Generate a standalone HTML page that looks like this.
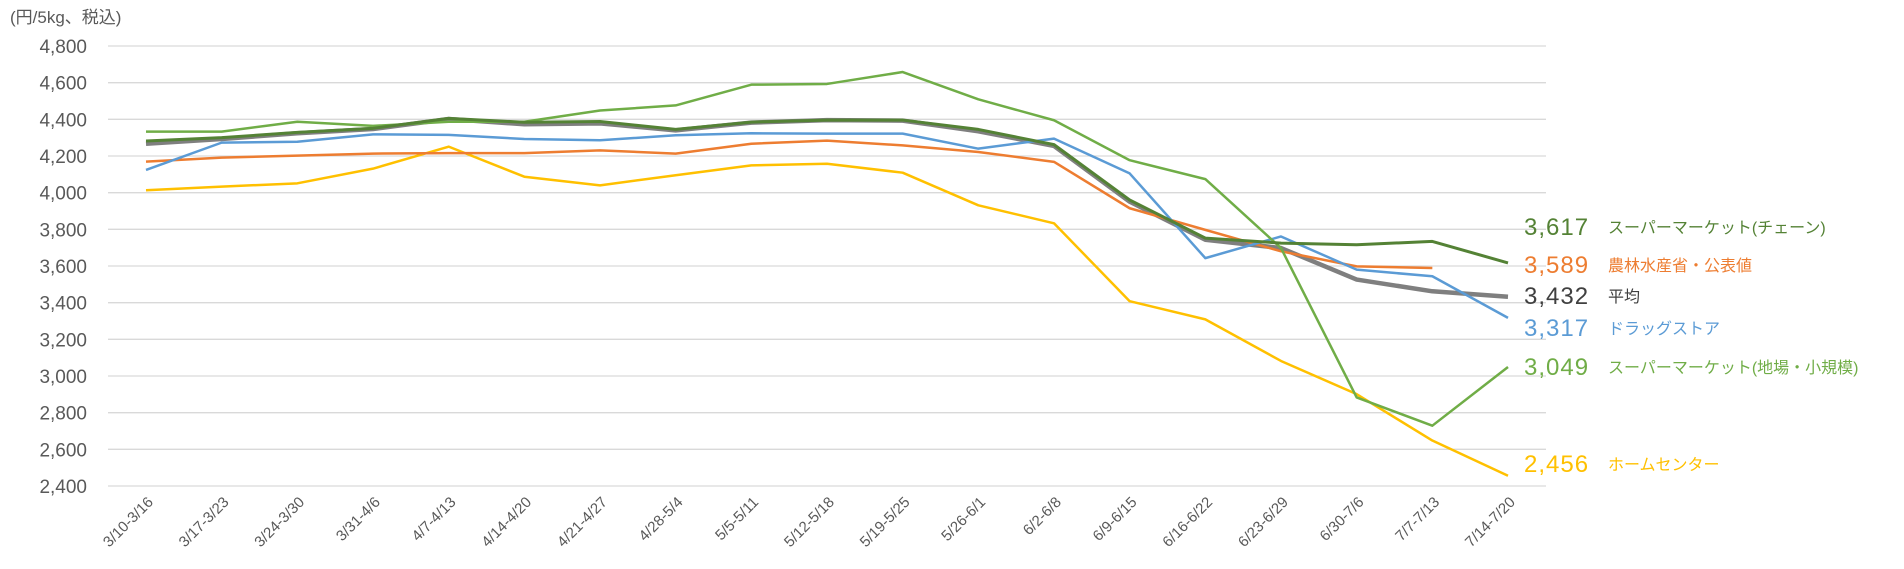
<!DOCTYPE html>
<html><head><meta charset="utf-8"><style>
body{margin:0;background:#fff;width:1904px;height:569px;overflow:hidden}
svg{display:block;font-family:"Liberation Sans","Noto Sans CJK JP",sans-serif}
</style></head><body>
<svg id="chart" width="1904" height="569" viewBox="0 0 1904 569">
<text x="10" y="23" font-size="17" fill="#595959">(円/5kg、税込)</text>
<g id="grid"></g><g id="ylabels"></g><g id="xlabels"></g><g id="lines"></g><g id="endlabels"></g>
</svg>
<script>
const categories=["3/10-3/16","3/17-3/23","3/24-3/30","3/31-4/6","4/7-4/13","4/14-4/20","4/21-4/27","4/28-5/4","5/5-5/11","5/12-5/18","5/19-5/25","5/26-6/1","6/2-6/8","6/9-6/15","6/16-6/22","6/23-6/29","6/30-7/6","7/7-7/13","7/14-7/20"];
const yTicks=[2400,2600,2800,3000,3200,3400,3600,3800,4000,4200,4400,4600,4800];
const homeCenter=[4013,4033,4051,4131,4251,4087,4040,4095,4149,4158,4109,3931,3833,3408,3309,3082,2901,2648,2456];
const maff=[4169,4191,4202,4213,4216,4216,4231,4213,4267,4284,4258,4222,4168,3915,3797,3680,3598,3589,null];
const drugstore=[4124,4273,4278,4318,4315,4293,4286,4313,4324,4322,4322,4240,4295,4105,3643,3761,3580,3544,3317];
const superLocal=[4333,4333,4387,4364,4387,4387,4448,4476,4589,4593,4658,4509,4395,4177,4074,3698,2883,2729,3049];
const superChain=[4282,4300,4329,4351,4405,4384,4388,4345,4385,4396,4396,4345,4262,3960,3752,3725,3716,3734,3617];
const average=[4267,4293,4324,4347,4402,4373,4378,4340,4382,4396,4393,4335,4255,3951,3743,3698,3526,3462,3432];
const seriesNames=["ホームセンター","農林水産省・公表値","ドラッグストア","スーパーマーケット(地場・小規模)","スーパーマーケット(チェーン)","平均"];
const endValues=["2,456","3,589","3,317","3,049","3,617","3,432"];

const NS="http://www.w3.org/2000/svg";
const x=i=>146+i*(1508-146)/(categories.length-1);
const y=v=>486-(v-2400)/(4800-2400)*440;
function mk(tag,attrs,parent){const e=document.createElementNS(NS,tag);for(const k in attrs)e.setAttribute(k,attrs[k]);parent.appendChild(e);return e;}
const G=document.getElementById('grid'),YL=document.getElementById('ylabels'),XL=document.getElementById('xlabels'),L=document.getElementById('lines'),E=document.getElementById('endlabels');
yTicks.forEach(t=>{
  const g=mk('line',{x1:108,x2:1546,y1:y(t),y2:y(t),stroke:'#d9d9d9','stroke-width':1.3},G);
  
  
  const tx=mk('text',{x:87,y:y(t)+7,'text-anchor':'end','font-size':19,fill:'#595959'},YL);
  tx.textContent=t.toLocaleString('en-US');
  
  
});
categories.forEach((c,i)=>{
  const tx=mk('text',{x:x(i)+8,y:503,'text-anchor':'end','font-size':15,fill:'#595959',transform:`rotate(-45 ${x(i)+8} 503)`},XL);
  tx.textContent=c;
  
  
});
const data=[average,homeCenter,maff,drugstore,superLocal,superChain];
const colors=['#7F7F7F','#FFC000','#ED7D31','#5B9BD5','#70AD47','#548235'];
const widths=[4.5,2.5,2.5,2.5,2.5,3];
const keys=['average-line','home-center-line','maff-line','drugstore-line','super-local-line','super-chain-line'];
data.forEach((arr,s)=>{
  const pts=[];arr.forEach((v,i)=>{if(v!=null)pts.push(x(i)+','+y(v));});
  const p=mk('polyline',{points:pts.join(' '),fill:'none',stroke:colors[s],'stroke-width':widths[s],'stroke-linejoin':'round'},L);
  
  
});
const labelY=[464,265,328,367,227,296];
const numColors=['#FFC000','#ED7D31','#5B9BD5','#70AD47','#548235','#404040'];
seriesNames.forEach((n,s)=>{
  const t=mk('text',{x:1524,y:labelY[s]+8,'font-size':24,'letter-spacing':1,fill:numColors[s]},E);
  t.textContent=endValues[s];
  
  
  const t2=mk('text',{x:1608,y:labelY[s]+6,'font-size':16,fill:numColors[s]},E);
  t2.textContent=n;
  
  
});
</script>
</body></html>
